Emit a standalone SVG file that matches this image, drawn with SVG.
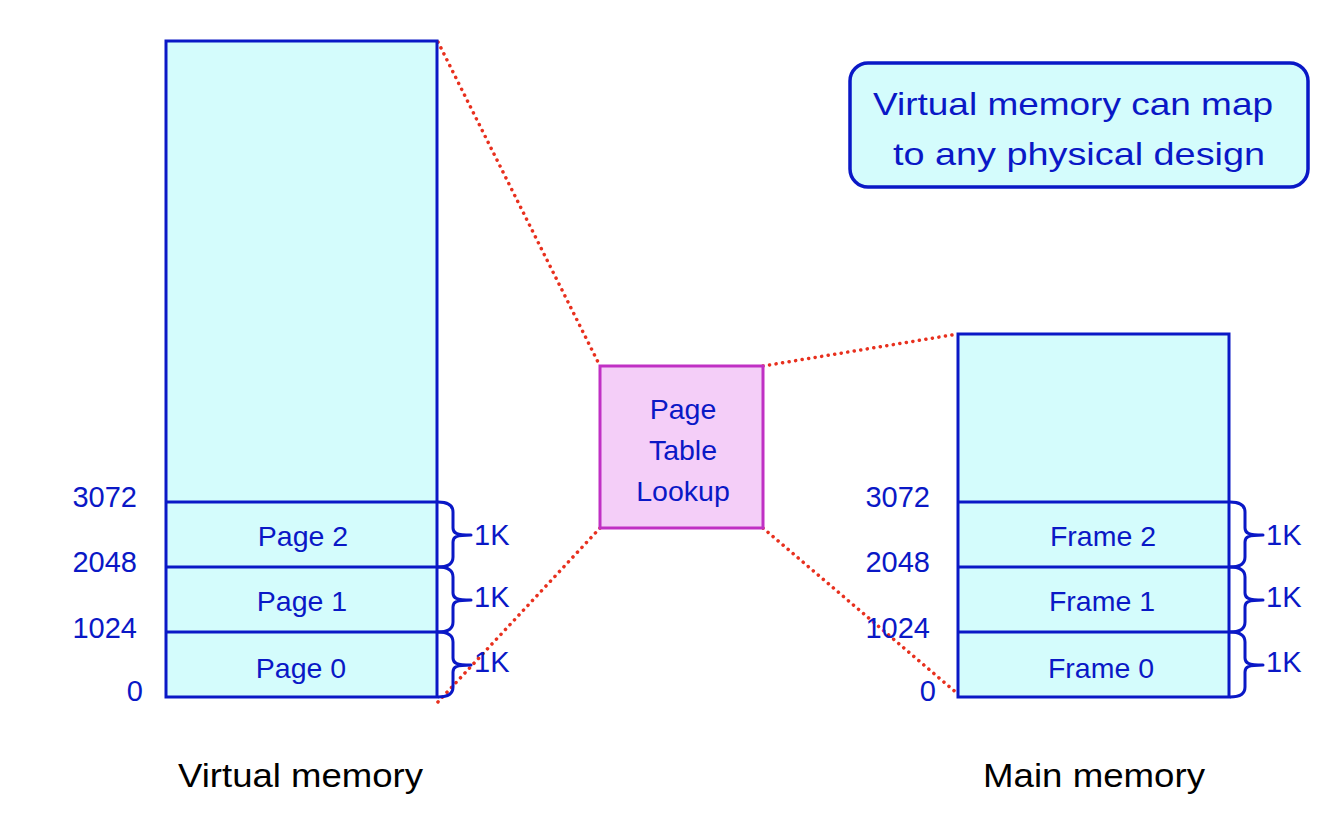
<svg xmlns="http://www.w3.org/2000/svg" width="1330" height="814" viewBox="0 0 1330 814">
<style>
.mem{fill:#D4FCFC;stroke:#0A18C6;stroke-width:3}
.div{stroke:#0A18C6;stroke-width:3;fill:none}
.brace{stroke:#0A18C6;stroke-width:3;fill:none;stroke-linejoin:round}
.t{font-family:"Liberation Sans",Arial,sans-serif;fill:#0A18C6}
.lbl{font-size:28.5px;text-anchor:middle}
.num{font-size:29px;text-anchor:end}
.k{font-size:29px}
.cap{font-family:"Liberation Sans",Arial,sans-serif;fill:#000;font-size:33px}
.dot{stroke:#E8301E;stroke-width:3.5;stroke-linecap:round;stroke-dasharray:0.1 6.5;fill:none}
</style>
<defs>
<path id="br" d="M0,0 C10,0 15,3 15,10 L15,26 C15,31 18,33 33,33 C18,33 15,35 15,40 L15,55 C15,62 10,65 0,65" class="brace"/>
</defs>
<rect width="1330" height="814" fill="#fff"/>
<g id="connectors">
<line class="dot" x1="438" y1="42" x2="600" y2="366"/>
<line class="dot" x1="600" y1="528" x2="437" y2="703"/>
<line class="dot" x1="763" y1="366" x2="958" y2="334"/>
<line class="dot" x1="763" y1="528" x2="958" y2="694"/>
</g>
<g id="virtual-memory">
<rect class="mem" x="166" y="41" width="271" height="656"/>
<line class="div" x1="166" y1="502" x2="437" y2="502"/>
<line class="div" x1="166" y1="567" x2="437" y2="567"/>
<line class="div" x1="166" y1="632" x2="437" y2="632"/>
<text class="t lbl" x="303" y="546">Page 2</text>
<text class="t lbl" x="302" y="611">Page 1</text>
<text class="t lbl" x="301" y="678">Page 0</text>
<text class="t num" x="137" y="507">3072</text>
<text class="t num" x="137" y="572">2048</text>
<text class="t num" x="137" y="638">1024</text>
<text class="t num" x="143" y="701">0</text>
<use href="#br" x="438" y="502"/>
<use href="#br" x="438" y="567"/>
<use href="#br" x="438" y="632"/>
<text class="t k" x="474" y="545">1K</text>
<text class="t k" x="474" y="607">1K</text>
<text class="t k" x="474" y="672">1K</text>
<text class="cap" x="178" y="787" textLength="245" lengthAdjust="spacingAndGlyphs">Virtual memory</text>
</g>
<g id="page-table">
<rect x="600" y="366" width="163" height="162" fill="#F4CEF8" stroke="#C030C4" stroke-width="3"/>
<text class="t lbl" x="683" y="419">Page</text>
<text class="t lbl" x="683" y="460">Table</text>
<text class="t lbl" x="683" y="501">Lookup</text>
</g>
<g id="main-memory">
<rect class="mem" x="958" y="334" width="271" height="363"/>
<line class="div" x1="958" y1="502" x2="1229" y2="502"/>
<line class="div" x1="958" y1="567" x2="1229" y2="567"/>
<line class="div" x1="958" y1="632" x2="1229" y2="632"/>
<text class="t lbl" x="1103" y="546">Frame 2</text>
<text class="t lbl" x="1102" y="611">Frame 1</text>
<text class="t lbl" x="1101" y="678">Frame 0</text>
<text class="t num" x="930" y="507">3072</text>
<text class="t num" x="930" y="572">2048</text>
<text class="t num" x="930" y="638">1024</text>
<text class="t num" x="936" y="701">0</text>
<use href="#br" x="1230" y="502"/>
<use href="#br" x="1230" y="567"/>
<use href="#br" x="1230" y="632"/>
<text class="t k" x="1266" y="545">1K</text>
<text class="t k" x="1266" y="607">1K</text>
<text class="t k" x="1266" y="672">1K</text>
<text class="cap" x="983" y="787" textLength="222" lengthAdjust="spacingAndGlyphs">Main memory</text>
</g>
<g id="callout">
<rect x="850" y="63" width="458" height="124" rx="18" fill="#D4FCFC" stroke="#0A18C6" stroke-width="3.5"/>
<text class="t" font-size="32" x="873" y="115" textLength="400" lengthAdjust="spacingAndGlyphs">Virtual memory can map</text>
<text class="t" font-size="32" x="893" y="165" textLength="372" lengthAdjust="spacingAndGlyphs">to any physical design</text>
</g>
</svg>
